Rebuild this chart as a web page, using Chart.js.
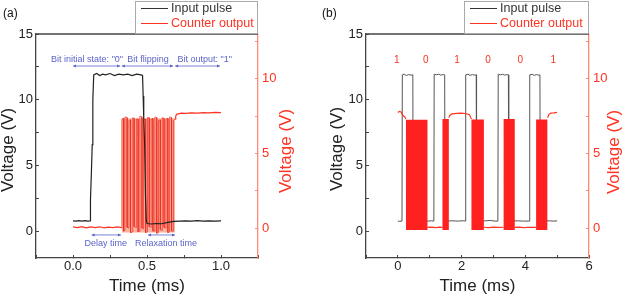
<!DOCTYPE html>
<html>
<head>
<meta charset="utf-8">
<script src="https://cdn.jsdelivr.net/npm/chart.js@4/dist/chart.umd.min.js"></script>
<style>
  html, body { margin: 0; padding: 0; background: #fff; overflow: hidden; }
  #wrap { position: relative; width: 623px; height: 297px; overflow: hidden; }
  canvas { position: absolute; top: 0; }
  #chartA { left: 0; }
  #chartB { left: 310px; }
</style>
</head>
<body>
<div id="wrap">
  <canvas id="chartA" width="310" height="297"></canvas>
  <canvas id="chartB" width="330" height="297"></canvas>
</div>
<script>
// ---- panel (a): single pulse, time in ms, voltages in V ----
const inputA = [
  [0.00, 0.82], [0.02, 0.80], [0.04, 0.84], [0.06, 0.80], [0.08, 0.83], [0.10, 0.80], [0.115, 0.82],
  [0.118, 2.4], [0.124, 4.4], [0.130, 6.6], [0.134, 10.0], [0.140, 11.9],
  [0.16, 12.0], [0.18, 11.85], [0.20, 11.95], [0.22, 11.9], [0.25, 12.0], [0.28, 11.85], [0.31, 11.95],
  [0.34, 11.9], [0.37, 11.95], [0.40, 11.85], [0.43, 11.95], [0.46, 11.9], [0.470, 11.85],
  [0.474, 10.3], [0.478, 8.6], [0.484, 6.6], [0.490, 2.7], [0.495, 0.9],
  [0.50, 0.62], [0.53, 0.58], [0.56, 0.62], [0.60, 0.60], [0.64, 0.70], [0.68, 0.78], [0.72, 0.80],
  [0.76, 0.82], [0.80, 0.80], [0.84, 0.83], [0.88, 0.80], [0.92, 0.82], [0.96, 0.80], [1.00, 0.82]
];
const outputA = [
  [0.00, 0.08], [0.03, 0.04], [0.06, 0.10], [0.09, 0.02], [0.12, 0.08], [0.15, 0.03], [0.18, 0.09],
  [0.21, 0.02], [0.24, 0.07], [0.27, 0.03], [0.30, 0.08], [0.328, 0.04], [0.33, null],
  [0.690, 7.3], [0.694, 7.5], [0.70, 7.62], [0.73, 7.7], [0.76, 7.68], [0.80, 7.72], [0.84, 7.7],
  [0.88, 7.74], [0.92, 7.72], [0.96, 7.75], [1.00, 7.74]
];
// oscillation while the bit is flipping
const flipA = [
  [0.330, 0.0], [0.330, 7.3], [0.342, 7.35], [0.342, -0.2], [0.351, -0.15], [0.351, 7.45],
  [0.366, 7.4], [0.366, 0.05], [0.378, 0.0], [0.378, 7.2], [0.389, 7.25], [0.389, -0.3],
  [0.404, -0.25], [0.404, 7.4], [0.413, 7.35], [0.413, 0.1], [0.428, 0.05], [0.428, 7.3],
  [0.440, 7.3], [0.440, -0.25], [0.452, -0.2], [0.452, 7.5], [0.466, 7.45], [0.466, 0.0],
  [0.477, -0.05], [0.477, 7.25], [0.491, 7.3], [0.491, -0.3], [0.503, -0.25], [0.503, 7.4],
  [0.515, 7.4], [0.515, 0.1], [0.528, 0.05], [0.528, 7.3], [0.540, 7.35], [0.540, -0.2],
  [0.553, -0.2], [0.553, 7.45], [0.566, 7.4], [0.566, -0.35], [0.578, -0.3], [0.578, 7.2],
  [0.590, 7.25], [0.590, -0.1], [0.603, -0.15], [0.603, 7.4], [0.615, 7.35], [0.615, 0.05],
  [0.628, 0.0], [0.628, 7.3], [0.641, 7.35], [0.641, -0.3], [0.653, -0.25], [0.653, 7.45],
  [0.666, 7.4], [0.666, -0.2], [0.678, -0.2], [0.678, 7.2], [0.690, 7.3]
];
const burstStartA = [0.33], burstEndA = [0.69], burstTopA = [7.35], burstBottomA = -0.3;

const noteTextA = ['Bit initial state: "0"', 'Bit flipping', 'Bit output: "1"', 'Delay time', 'Relaxation time'];
const noteTimeA = [0.095, 0.507, 0.89, 0.221, 0.628];
const noteVoltA = [13.1, 13.1, 13.1, -0.88, -0.88];
const spanFromA = [0.0, 0.33, 0.69, 0.126, 0.507];
const spanToA = [0.318, 0.676, 0.993, 0.324, 0.689];
const spanVoltA = [12.57, 12.57, 12.57, -0.25, -0.25];

// ---- panel (b): pulse train ----
const inputB = [
  [0.00, 0.80], [0.06, 0.78], [0.13, 0.80], [0.14, 11.9], [0.20, 11.95], [0.27, 11.85], [0.34, 11.92],
  [0.41, 11.88], [0.47, 11.9], [0.48, 0.80], [0.70, 0.82], [0.95, 0.80], [1.05, 0.82], [1.13, 0.80],
  [1.14, 11.95], [1.21, 11.9], [1.28, 11.95], [1.35, 11.88], [1.41, 11.92], [1.47, 11.9], [1.48, 0.80],
  [1.70, 0.82], [1.90, 0.80], [2.05, 0.83], [2.12, 0.80], [2.13, 11.9], [2.20, 11.95], [2.27, 11.86],
  [2.34, 11.92], [2.40, 11.88], [2.46, 11.9], [2.47, 0.80], [2.75, 0.82], [2.90, 0.85], [3.05, 0.80],
  [3.14, 0.80], [3.15, 11.95], [3.22, 11.9], [3.29, 11.94], [3.36, 11.88], [3.42, 11.92], [3.47, 11.9],
  [3.48, 0.80], [3.75, 0.82], [3.95, 0.80], [4.13, 0.80], [4.14, 11.9], [4.21, 11.95], [4.28, 11.86],
  [4.35, 11.92], [4.41, 11.88], [4.46, 11.9], [4.47, 0.80], [4.75, 0.82], [4.90, 0.80], [5.00, 0.82]
];
const outputB = [
  [0.00, 7.75], [0.05, 7.82], [0.10, 7.78], [0.14, 7.6], [0.18, 7.5], [0.22, 7.45], [0.25, 7.3], [0.26, null],
  [0.93, 0.05], [1.05, 0.07], [1.20, 0.04], [1.30, 0.07], [1.40, 0.05], [1.45, null],
  [1.60, 7.4], [1.63, 7.55], [1.70, 7.65], [1.85, 7.68], [2.00, 7.7], [2.15, 7.66], [2.25, 7.6], [2.31, 7.3], [2.35, null],
  [2.70, 0.06], [2.85, 0.04], [3.00, 0.07], [3.15, 0.05], [3.32, 0.06], [3.35, null],
  [3.67, 0.05], [3.80, 0.07], [3.95, 0.04], [4.10, 0.06], [4.34, 0.05], [4.40, null],
  [4.70, 7.4], [4.74, 7.6], [4.80, 7.7], [4.90, 7.72], [5.00, 7.75]
];
const burstStartB = [0.25, 1.40, 2.31, 3.32, 4.34];
const burstEndB = [0.93, 1.60, 2.70, 3.67, 4.70];
const burstTopB = [7.25, 7.3, 7.28, 7.3, 7.27];
const burstBottomB = -0.12;

const bitLabelsB = ['1', '0', '1', '0', '0', '1'];
const bitTimesB = [-0.03, 0.88, 1.86, 2.83, 3.84, 4.88];
const bitVoltB = 13.0;

// ---- axes ----
const leftTicks = [0, 2.5, 5, 7.5, 10, 12.5, 15], leftLabeled = [0, 5, 10, 15];
const rightTicks = [0, 2.5, 5, 7.5, 10, 12.5], rightLabeled = [0, 5, 10];
const xTicksA = [-0.25, 0, 0.25, 0.5, 0.75, 1, 1.25], xLabeledA = [0, 0.5, 1];
const xTicksB = [-1, 0, 1, 2, 3, 4, 5, 6], xLabeledB = [0, 2, 4, 6];

const FONT = "'Liberation Sans', Arial, sans-serif";
const RED = '#ff3322';
const RED_AXIS = '#ff8a75';
const INK = '#222';
const BLUE = '#5b63c9';

const pts = arr => arr.map(([x, y]) => ({ x, y }));

function envelope(starts, ends, tops, bottom) {
  const out = [];
  starts.forEach((s, i) => {
    out.push({ x: s, y: bottom }, { x: s, y: tops[i] }, { x: ends[i], y: tops[i] }, { x: ends[i], y: bottom });
  });
  return out;
}

function axis(pos, min, max, ticks, labeled, fmt, size, pad, lineCol, textCol) {
  return {
    type: 'linear', position: pos, min: min, max: max,
    afterBuildTicks: s => { s.ticks = ticks.map(v => ({ value: v })); },
    afterFit: s => { if (pos === 'bottom') s.height = size; else s.width = size; },
    grid: { drawOnChartArea: false, drawTicks: true, tickLength: -3, color: lineCol, lineWidth: 1 },
    border: { display: true, color: lineCol, width: 1.3 },
    ticks: {
      autoSkip: false, maxRotation: 0, padding: pad, color: textCol,
      font: { family: FONT, size: 13 },
      callback: v => labeled.includes(v) ? fmt(v) : ''
    },
    title: pos === 'bottom'
      ? { display: true, text: 'Time (ms)', color: INK, font: { family: FONT, size: 17 }, padding: 0 }
      : { display: false }
  };
}

function rotText(ctx, text, x, y, color) {
  ctx.save();
  ctx.translate(x, y);
  ctx.rotate(-Math.PI / 2);
  ctx.fillStyle = color;
  ctx.textAlign = 'center';
  ctx.textBaseline = 'middle';
  ctx.fillText(text, 0, 0);
  ctx.restore();
}

const decor = {
  id: 'decor',
  afterDraw(chart, args, o) {
    const ctx = chart.ctx, a = chart.chartArea;
    const xs = chart.scales.x, yl = chart.scales.y;
    ctx.save();
    // top frame line
    ctx.strokeStyle = '#444';
    ctx.lineWidth = 1.3;
    ctx.beginPath(); ctx.moveTo(a.left, a.top); ctx.lineTo(a.right, a.top); ctx.stroke();

    // panel tag
    ctx.fillStyle = '#111';
    ctx.font = '12px ' + FONT;
    ctx.textAlign = 'left'; ctx.textBaseline = 'middle';
    ctx.fillText(o.tag, o.tagX, 14);

    // y titles
    ctx.font = '17px ' + FONT;
    rotText(ctx, 'Voltage (V)', o.leftTitle[0], o.leftTitle[1], INK);
    rotText(ctx, 'Voltage (V)', o.rightTitle[0], o.rightTitle[1], RED);

    // legend box
    const L = o.legendLeft;
    ctx.strokeStyle = '#aaa'; ctx.lineWidth = 1;
    ctx.strokeRect(L + 0.5, 1.5, a.right - L - 1, a.top - 2);
    ctx.font = '12.5px ' + FONT;
    ctx.textBaseline = 'middle'; ctx.textAlign = 'left';
    [['Input pulse', '#333', 8.5], ['Counter output', RED, 23.5]].forEach(([t, c, y]) => {
      ctx.strokeStyle = c; ctx.lineWidth = 1;
      ctx.beginPath(); ctx.moveTo(L + 6, y); ctx.lineTo(L + 33, y); ctx.stroke();
      ctx.fillStyle = c;
      ctx.fillText(t, L + 36, y);
    });

    // annotations
    if (o.notes) {
      const n = o.notes;
      ctx.fillStyle = BLUE; ctx.strokeStyle = BLUE; ctx.lineWidth = 0.8;
      ctx.font = '9px ' + FONT; ctx.textAlign = 'center';
      n.text.forEach((t, i) => ctx.fillText(t, xs.getPixelForValue(n.t[i]), yl.getPixelForValue(n.v[i])));
      n.from.forEach((f, i) => {
        const x1 = xs.getPixelForValue(f), x2 = xs.getPixelForValue(n.to[i]), y = yl.getPixelForValue(n.sv[i]);
        ctx.beginPath(); ctx.moveTo(x1, y); ctx.lineTo(x2, y); ctx.stroke();
        ctx.beginPath();
        ctx.moveTo(x1, y); ctx.lineTo(x1 + 3, y - 1.5); ctx.lineTo(x1 + 3, y + 1.5); ctx.closePath();
        ctx.moveTo(x2, y); ctx.lineTo(x2 - 3, y - 1.5); ctx.lineTo(x2 - 3, y + 1.5); ctx.closePath();
        ctx.fill();
      });
    }
    if (o.bits) {
      ctx.fillStyle = RED;
      ctx.font = '10px ' + FONT; ctx.textAlign = 'center';
      o.bits.labels.forEach((b, i) => ctx.fillText(b, xs.getPixelForValue(o.bits.t[i]), yl.getPixelForValue(o.bits.v)));
    }
    ctx.restore();
  }
};

function baseOptions(xMin, xMax, xTicks, xLabeled, xFmt, leftW, rightW, deco) {
  return {
    responsive: false, animation: false,
    layout: { padding: { top: 34, left: 0, right: 0, bottom: 0 } },
    elements: { point: { radius: 0 }, line: { tension: 0 } },
    plugins: { legend: { display: false }, tooltip: { enabled: false }, decor: deco },
    scales: {
      x: axis('bottom', xMin, xMax, xTicks, xLabeled, xFmt, 39, 4, '#444', INK),
      y: axis('left', -2, 15, leftTicks, leftLabeled, v => String(v), leftW, 6, '#444', INK),
      y2: axis('right', -2, 13, rightTicks, rightLabeled, v => String(v), rightW, 7, RED_AXIS, RED)
    }
  };
}

document.addEventListener('DOMContentLoaded', () => {
  // Panel (a)
  new Chart(document.getElementById('chartA').getContext('2d'), {
    type: 'line',
    data: {
      datasets: [
        { label: 'Input pulse', data: pts(inputA), yAxisID: 'y', borderColor: '#222', borderWidth: 1.2 },
        { label: 'Counter output', data: pts(flipA), yAxisID: 'y2', borderColor: 'rgba(240,40,28,0.7)', borderWidth: 1 },
        { label: 'Counter output', data: pts(outputA), yAxisID: 'y2', borderColor: RED, borderWidth: 1.2 },
        {
          label: 'burst', data: envelope(burstStartA, burstEndA, burstTopA, burstBottomA), yAxisID: 'y2',
          borderColor: 'transparent', borderWidth: 0, backgroundColor: 'rgba(248,145,120,0.7)',
          fill: { value: burstBottomA }
        }
      ]
    },
    options: baseOptions(-0.25, 1.25, xTicksA, xLabeledA, v => v.toFixed(1), 36, 52, {
      tag: '(a)', tagX: 3, legendLeft: 135,
      leftTitle: [8, 150], rightTitle: [286, 151],
      notes: { text: noteTextA, t: noteTimeA, v: noteVoltA, from: spanFromA, to: spanToA, sv: spanVoltA }
    }),
    plugins: [decor]
  });

  // Panel (b)
  new Chart(document.getElementById('chartB').getContext('2d'), {
    type: 'line',
    data: {
      datasets: [
        {
          label: 'burst', data: envelope(burstStartB, burstEndB, burstTopB, burstBottomB), yAxisID: 'y2',
          borderColor: 'transparent', borderWidth: 0, backgroundColor: '#ff2020',
          fill: { value: burstBottomB }
        },
        { label: 'Counter output', data: pts(outputB), yAxisID: 'y2', borderColor: RED, borderWidth: 1.2 },
        { label: 'Input pulse', data: pts(inputB), yAxisID: 'y', borderColor: '#555', borderWidth: 1 }
      ]
    },
    options: baseOptions(-1, 6, xTicksB, xLabeledB, v => String(v), 56, 51, {
      tag: '(b)', tagX: 12, legendLeft: 154,
      leftTitle: [27, 149], rightTitle: [304, 152],
      bits: { labels: bitLabelsB, t: bitTimesB, v: bitVoltB }
    }),
    plugins: [decor]
  });
});
</script>
</body>
</html>
